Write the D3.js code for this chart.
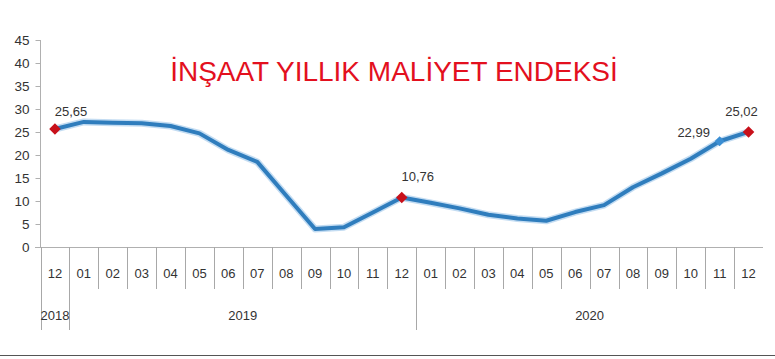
<!DOCTYPE html>
<html>
<head>
<meta charset="utf-8">
<script src="https://cdn.jsdelivr.net/npm/d3@7"></script>
<style>
  html, body { margin: 0; padding: 0; background: #fff; }
  svg { display: block; font-family: "Liberation Sans", Arial, sans-serif; }
</style>
</head>
<body>
<svg id="chart" width="775" height="359"></svg>
<script>
// ---- data ----
const title = "İNŞAAT YILLIK MALİYET ENDEKSİ";
const months = ["12","01","02","03","04","05","06","07","08","09","10","11","12",
                "01","02","03","04","05","06","07","08","09","10","11","12"];
const years = [
  { label: "2018", start: 0, end: 0 },
  { label: "2019", start: 1, end: 12 },
  { label: "2020", start: 13, end: 24 }
];
const values = [25.65, 27.2, 27.0, 26.9, 26.3, 24.7, 21.1, 18.5, 11.2, 3.9, 4.3, 7.5, 10.76,
                9.6, 8.4, 7.0, 6.2, 5.7, 7.6, 9.1, 13.0, 16.0, 19.2, 22.99, 25.02];
const yTicks = [0, 5, 10, 15, 20, 25, 30, 35, 40, 45];
const highlighted = [0, 12, 24];   // red diamonds
const blueMarked = [23];           // blue diamond
const labelled = [0, 12, 23, 24];
const labelOffsets = { 0: [16, -13], 12: [16, -17], 23: [-26, -4], 24: [-7, -16] };

// ---- layout ----
const svg = d3.select("#chart");
const x = d3.scaleBand().domain(d3.range(months.length)).range([40.5, 763]);
const y = d3.scaleLinear().domain([0, 45]).range([247, 40]);
const cx = i => x(i) + x.bandwidth() / 2;
const fmt = v => d3.format(".2f")(v).replace(".", ",");

// title
svg.append("text")
  .attr("x", 394).attr("y", 81)
  .attr("text-anchor", "middle")
  .attr("font-size", 28)
  .attr("fill", "#e3101e")
  .text(title);

// y axis
const yAxis = d3.axisLeft(y).tickValues(yTicks).tickSize(5).tickPadding(6);
const gy = svg.append("g").attr("transform", "translate(40.5,0)").call(yAxis);
gy.select(".domain").attr("stroke", "#b0b0b0").attr("d", `M0,${y(45)}V${y(0)}`);
gy.selectAll(".tick line").attr("stroke", "#b0b0b0");
gy.selectAll(".tick text").attr("font-size", 13.5).attr("fill", "#333")
  .attr("font-family", "Liberation Sans, Arial, sans-serif");

// x axis baseline
svg.append("line")
  .attr("x1", 35).attr("x2", 763)
  .attr("y1", y(0) + 0.5).attr("y2", y(0) + 0.5)
  .attr("stroke", "#b0b0b0");

// separators
const yearStarts = years.map(d => d.start);
d3.range(months.length).forEach(i => {
  const isYear = yearStarts.includes(i) || i === 0;
  svg.append("line")
    .attr("x1", Math.round(x(i)) + 0.5).attr("x2", Math.round(x(i)) + 0.5)
    .attr("y1", y(0)).attr("y2", isYear ? 330 : 289)
    .attr("stroke", "#a8a8a8");
});

// month labels
svg.append("g").selectAll("text").data(months).join("text")
  .attr("x", (d, i) => cx(i)).attr("y", 278)
  .attr("text-anchor", "middle")
  .attr("font-size", 13).attr("fill", "#333")
  .text(d => d);

// year labels
svg.append("g").selectAll("text").data(years).join("text")
  .attr("x", d => (x(d.start) + x(d.end) + x.bandwidth()) / 2).attr("y", 320)
  .attr("text-anchor", "middle")
  .attr("font-size", 13).attr("fill", "#333")
  .text(d => d.label);

// line
const line = d3.line().x((d, i) => cx(i)).y(d => y(d));
svg.append("path").datum(values)
  .attr("d", line).attr("fill", "none")
  .attr("stroke", "#a9cdec").attr("stroke-width", 7).attr("stroke-opacity", 0.7)
  .attr("stroke-linejoin", "round");
svg.append("path").datum(values)
  .attr("d", line).attr("fill", "none")
  .attr("stroke", "#2f7dbd").attr("stroke-width", 4)
  .attr("stroke-linejoin", "round");

// markers
const diamond = d3.symbol().type(d3.symbolDiamond2);
svg.append("g").selectAll("path").data(highlighted).join("path")
  .attr("d", diamond.size(85)())
  .attr("transform", i => `translate(${cx(i)},${y(values[i])})`)
  .attr("fill", "#c8101a");
svg.append("g").selectAll("path").data(blueMarked).join("path")
  .attr("d", diamond.size(64)())
  .attr("transform", i => `translate(${cx(i)},${y(values[i])})`)
  .attr("fill", "#3b8ed3");

// data labels
svg.append("g").selectAll("text").data(labelled).join("text")
  .attr("x", i => cx(i) + labelOffsets[i][0])
  .attr("y", i => y(values[i]) + labelOffsets[i][1])
  .attr("text-anchor", "middle")
  .attr("font-size", 13).attr("fill", "#333")
  .text(i => fmt(values[i]));

// bottom frame line
svg.append("line")
  .attr("x1", 0).attr("x2", 775).attr("y1", 355.5).attr("y2", 355.5)
  .attr("stroke", "#555").attr("stroke-width", 1);
</script>
</body>
</html>
